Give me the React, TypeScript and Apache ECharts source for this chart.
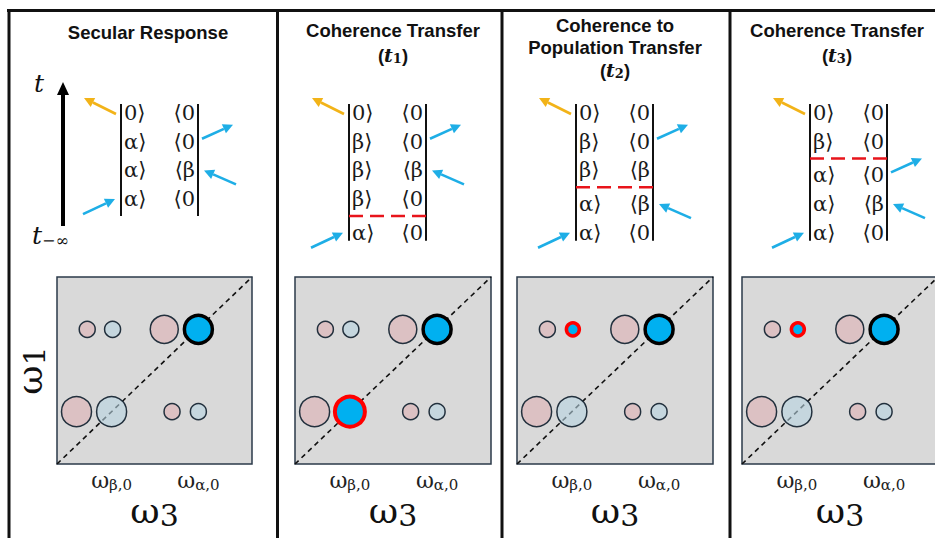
import React, { useEffect, useRef } from "react";
import * as echarts from "echarts";

// ---------- data ----------
const titleLines: string[][] = [
  ["Secular Response"],
  ["Coherence Transfer", "({t|t}{s|1})"],
  ["Coherence to", "Population Transfer", "({t|t}{s|2})"],
  ["Coherence Transfer", "({t|t}{s|3})"],
];

// Feynman diagram states, top (latest time) to bottom
const kets: string[][] = [
  ["0⟩", "α⟩", "α⟩", "α⟩"],
  ["0⟩", "β⟩", "β⟩", "β⟩", "α⟩"],
  ["0⟩", "β⟩", "β⟩", "α⟩", "α⟩"],
  ["0⟩", "β⟩", "α⟩", "α⟩", "α⟩"],
];
const bras: string[][] = [
  ["⟨0", "⟨0", "⟨β", "⟨0"],
  ["⟨0", "⟨0", "⟨β", "⟨0", "⟨0"],
  ["⟨0", "⟨0", "⟨β", "⟨β", "⟨0"],
  ["⟨0", "⟨0", "⟨0", "⟨β", "⟨0"],
];
const transferAfterRow = [-1, 3, 2, 1];
const outRow = [1, 1, 1, 2];
const inRow = [2, 2, 3, 3];

// 2D spectrum peaks (ω3, ω1)
const peakW3 = [15.5, 28.5, 55, 72.5, 10, 28, 59, 72.5];
const peakW1 = [72, 72, 72, 72, 28, 28, 28, 28];
const peakKind = ["pink", "blue", "pink", "blue", "pink", "blue", "pink", "blue"];
const peakSize = [16, 16, 28, 28, 30, 30, 16, 16];
const boldPeak = [3, 3, 3, 3];
const redPeak = [-1, 5, 1, 1];
const diagonal = [
  [0, 0],
  [100, 100],
];
const tickValues = [28, 72.5];
const tickLabels = ["{w|ω}{s|β,0}", "{w|ω}{s|α,0}"];

// ---------- layout / style ----------
const panelCx = [148, 393, 615, 837];
const titleY = [[32], [30, 55], [25, 47, 70], [30, 55]];
const lineL = [121, 349, 576, 810];
const gap = 77;
const gridLeft = [57, 295, 517, 742];
const gridW = [195, 196, 196, 196];
const BLUE_ARROW = "#1eaee6";
const YELLOW = "#f2b318";
const serif = "'DejaVu Serif', 'Liberation Serif', serif";

function arrow(x1: number, y1: number, x2: number, y2: number, color: string, w = 2.6, head = 10) {
  const ang = Math.atan2(y2 - y1, x2 - x1);
  const bx = x2 - head * Math.cos(ang);
  const by = y2 - head * Math.sin(ang);
  const hw = head * 0.5;
  const px = -Math.sin(ang) * hw;
  const py = Math.cos(ang) * hw;
  return [
    { type: "line", shape: { x1, y1, x2: bx, y2: by }, style: { stroke: color, lineWidth: w } },
    {
      type: "polygon",
      shape: { points: [[x2, y2], [bx + px, by + py], [bx - px, by - py]] },
      style: { fill: color },
    },
  ];
}

const App: React.FC = () => {
  const ref = useRef<HTMLDivElement>(null);
  useEffect(() => {
    document.body.style.margin = "0";
    if (!ref.current) return;
    const chart = echarts.init(ref.current, null, { renderer: "svg" });

    const els: any[] = [];
    // frame
    els.push({ type: "line", shape: { x1: 7, y1: 10.5, x2: 935, y2: 10.5 }, style: { stroke: "#111", lineWidth: 3 } });
    [9, 277.5, 502, 730].forEach((x) =>
      els.push({ type: "line", shape: { x1: x, y1: 9, x2: x, y2: 538 }, style: { stroke: "#111", lineWidth: 3 } })
    );

    const ruleRich = {
      t: { font: `italic bold 19px ${serif}` },
      s: { font: `bold 13px ${serif}`, padding: [7, 0, 0, 0] },
    };
    titleLines.forEach((lines, p) => {
      lines.forEach((txt, j) => {
        els.push({
          type: "text",
          style: {
            text: txt,
            x: panelCx[p],
            y: titleY[p][j],
            align: "center",
            verticalAlign: "middle",
            font: "bold 18.5px 'Liberation Sans', Arial, sans-serif",
            fill: "#111",
            rich: ruleRich,
          },
        });
      });
    });

    // time arrow (panel 1)
    els.push({ type: "line", shape: { x1: 63, y1: 226, x2: 63, y2: 92 }, style: { stroke: "#000", lineWidth: 4 } });
    els.push({ type: "polygon", shape: { points: [[63, 82], [57, 95], [69, 95]] }, style: { fill: "#000" } });
    els.push({
      type: "text",
      style: { text: "t", x: 39, y: 83, align: "center", verticalAlign: "middle", font: `italic 25px ${serif}`, fill: "#111" },
    });
    els.push({
      type: "text",
      style: {
        text: "{t|t}{s|−∞}",
        x: 32,
        y: 235,
        align: "left",
        verticalAlign: "middle",
        fill: "#111",
        rich: {
          t: { font: `italic 25px ${serif}` },
          s: { font: `16px ${serif}`, padding: [10, 0, 0, 0] },
        },
      },
    });

    // Feynman diagrams
    kets.forEach((kl, p) => {
      const L = lineL[p];
      const R = L + gap;
      const rows = kl.map((_, i) => 113 + 28.7 * i + (transferAfterRow[p] >= 0 && i > transferAfterRow[p] ? 5 : 0));
      const last = rows[rows.length - 1];
      [L, R].forEach((x) =>
        els.push({ type: "line", shape: { x1: x, y1: 104, x2: x, y2: last + (p === 0 ? 17 : 8) }, style: { stroke: "#111", lineWidth: 2 } })
      );
      rows.forEach((y, i) => {
        els.push({
          type: "text",
          style: { text: kl[i], x: L + 3, y, align: "left", verticalAlign: "middle", font: `21px ${serif}`, fill: "#1a1a1a" },
        });
        els.push({
          type: "text",
          style: { text: bras[p][i], x: R - 3, y, align: "right", verticalAlign: "middle", font: `21px ${serif}`, fill: "#1a1a1a" },
        });
      });
      const t = transferAfterRow[p];
      if (t >= 0) {
        const dy = (rows[t] + rows[t + 1]) / 2;
        els.push({
          type: "line",
          shape: { x1: L, y1: dy, x2: R, y2: dy },
          style: { stroke: "#e8141b", lineWidth: 2.5, lineDash: [14, 7] },
        });
      }
      els.push(...arrow(L - 5, rows[0] + 1, L - 37, rows[0] - 15, YELLOW));
      els.push(...arrow(R + 4, rows[outRow[p]] - 3, R + 35, rows[outRow[p]] - 17, BLUE_ARROW));
      els.push(...arrow(R + 38, rows[inRow[p]] + 14, R + 6, rows[inRow[p]], BLUE_ARROW));
      els.push(...arrow(L - 38, last + 15, L - 6, last, BLUE_ARROW));
    });

    const labelRich = {
      w: { fontSize: 22, fontFamily: serif, color: "#222" },
      s: { fontSize: 15, fontFamily: serif, color: "#222", padding: [8, 0, 0, 0] },
    };
    const nameRich = {
      w: { fontSize: 36, fontFamily: serif, color: "#111" },
      s: { fontSize: 30, fontFamily: serif, color: "#111", padding: [9, 0, 0, 0] },
    };

    const grids = gridLeft.map((l, i) => ({
      left: l,
      top: 277,
      width: gridW[i],
      height: 187,
      show: true,
      backgroundColor: "#d9d9d9",
      borderColor: "#2b3a4a",
      borderWidth: 1.5,
      containLabel: false,
      outerBoundsMode: "none",
    }));
    const xAxes = gridLeft.map((_, i) => ({
      gridIndex: i,
      type: "value",
      min: 0,
      max: 100,
      axisLine: { show: false },
      axisTick: { show: false },
      splitLine: { show: false },
      axisLabel: {
        customValues: tickValues,
        margin: 5,
        formatter: (v: number) => tickLabels[tickValues.indexOf(v)] ?? "",
        rich: labelRich,
      },
      name: "{w|ω}{s|3}",
      nameLocation: "middle",
      nameGap: 26,
      nameTextStyle: { rich: nameRich },
    }));
    const yAxes = gridLeft.map((_, i) => ({
      gridIndex: i,
      type: "value",
      min: 0,
      max: 100,
      axisLine: { show: false },
      axisTick: { show: false },
      splitLine: { show: false },
      axisLabel: { show: false },
      name: i === 0 ? "{w|ω}{s|1}" : "",
      nameLocation: "middle",
      nameRotate: 90,
      nameGap: 8,
      nameTextStyle: { rich: nameRich },
    }));

    const series: any[] = [];
    gridLeft.forEach((_, p) => {
      series.push({
        type: "line",
        xAxisIndex: p,
        yAxisIndex: p,
        data: diagonal,
        symbol: "none",
        z: 1,
        lineStyle: { color: "#111", width: 1.6, type: [5, 4] },
        silent: true,
      });
      series.push({
        type: "scatter",
        xAxisIndex: p,
        yAxisIndex: p,
        z: 2,
        data: peakW3.map((x, i) => {
          let color = peakKind[i] === "pink" ? "#dcc1c3" : "rgba(184,212,225,0.6)";
          let borderColor = "#22303d";
          let borderWidth = 1.5;
          let size = peakSize[i];
          if (i === boldPeak[p]) {
            color = "#00b0f0";
            borderColor = "#000";
            borderWidth = 3.5;
          }
          if (i === redPeak[p]) {
            color = "#00b0f0";
            borderColor = "#f00";
            borderWidth = size > 20 ? 4 : 3.5;
            if (size < 20) size = 13;
          }
          return {
            value: [x, peakW1[i]],
            symbolSize: size,
            itemStyle: { color, borderColor, borderWidth, opacity: 1 },
          };
        }),
      });
    });

    chart.setOption({
      animation: false,
      grid: grids,
      xAxis: xAxes,
      yAxis: yAxes,
      series,
      graphic: { elements: els },
    });
    return () => chart.dispose();
  }, []);
  return <div ref={ref} style={{ width: 935, height: 538, background: "#fff" }} />;
};

export default App;
